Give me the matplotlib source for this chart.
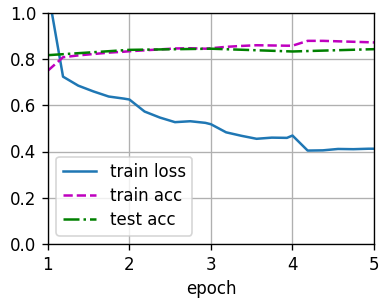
import matplotlib
matplotlib.use('Agg')
import numpy as np
from matplotlib import pyplot as plt

#--------------------------------------------------------------------------#
# data
#--------------------------------------------------------------------------#

batch_epochs = [1.0, 1.186, 1.373, 1.559, 1.746, 1.932,
                2.0, 2.186, 2.373, 2.559, 2.746, 2.932,
                3.0, 3.186, 3.373, 3.559, 3.746, 3.932,
                4.0, 4.186, 4.373, 4.559, 4.746, 4.932, 5.0]

train_loss = [1.10, 0.724, 0.685, 0.660, 0.638, 0.629,
              0.625, 0.573, 0.547, 0.527, 0.531, 0.524,
              0.518, 0.483, 0.468, 0.455, 0.460, 0.459,
              0.469, 0.404, 0.405, 0.411, 0.410, 0.412, 0.412]

train_acc = [0.750, 0.808, 0.816, 0.822, 0.828, 0.832,
             0.834, 0.838, 0.842, 0.846, 0.847, 0.845,
             0.847, 0.853, 0.857, 0.860, 0.859, 0.858,
             0.858, 0.879, 0.879, 0.877, 0.875, 0.873, 0.872]

test_epochs = [1, 2, 3, 4, 5]
test_acc = [0.817, 0.840, 0.845, 0.833, 0.843]

#--------------------------------------------------------------------------#

plt.rcParams['font.size'] = 10

fig = plt.figure(figsize=(386 / 120, 300 / 120), dpi=120)
ax = fig.add_axes([0.124, 0.187, 0.845, 0.770])

ax.plot(batch_epochs, train_loss, '-', color='#1f77b4', label='train loss')
ax.plot(batch_epochs, train_acc, 'm--', label='train acc')
ax.plot(test_epochs, test_acc, 'g-.', label='test acc')

ax.set_xlim(1, 5)
ax.set_ylim(0, 1)
ax.set_xticks([1, 2, 3, 4, 5])
ax.set_yticks([0.0, 0.2, 0.4, 0.6, 0.8, 1.0])
ax.set_xlabel('epoch')
ax.grid(True)
ax.legend(loc='lower left', labelspacing=0.35)

fig.savefig('out.png', dpi=120)
